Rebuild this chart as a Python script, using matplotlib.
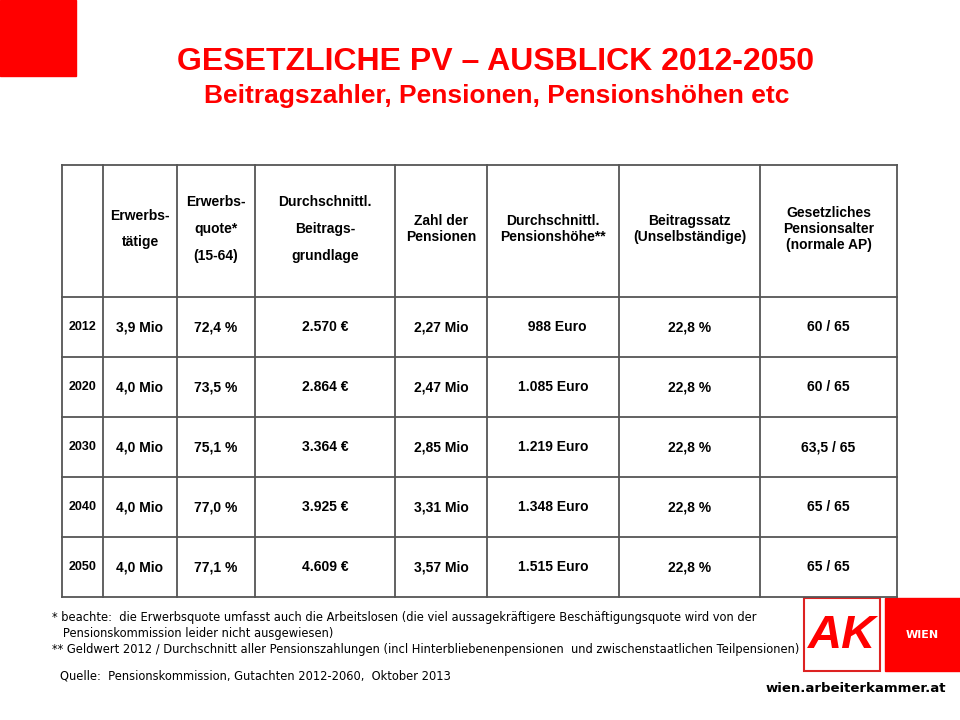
import matplotlib
matplotlib.use("Agg")
import matplotlib.pyplot as plt
from matplotlib.patches import Rectangle

years = ["2012", "2020", "2030", "2040", "2050"]
erwerbstaetige = ["3,9 Mio", "4,0 Mio", "4,0 Mio", "4,0 Mio", "4,0 Mio"]
erwerbsquote = ["72,4 %", "73,5 %", "75,1 %", "77,0 %", "77,1 %"]
beitragsgrundlage = ["2.570 €", "2.864 €", "3.364 €", "3.925 €", "4.609 €"]
zahl_pensionen = ["2,27 Mio", "2,47 Mio", "2,85 Mio", "3,31 Mio", "3,57 Mio"]
pensionshoehe = ["988 Euro", "1.085 Euro", "1.219 Euro", "1.348 Euro", "1.515 Euro"]
beitragssatz = ["22,8 %", "22,8 %", "22,8 %", "22,8 %", "22,8 %"]
pensionsalter = ["60 / 65", "60 / 65", "63,5 / 65", "65 / 65", "65 / 65"]
headers = ["", "Erwerbs-\n\ntätige", "Erwerbs-\n\nquote*\n\n(15-64)",
           "Durchschnittl.\n\nBeitrags-\n\ngrundlage", "Zahl der\nPensionen",
           "Durchschnittl.\nPensionshöhe**", "Beitragssatz\n(Unselbständige)",
           "Gesetzliches\nPensionsalter\n(normale AP)"]

RED = "#ff0000"
col_x = [62, 103, 177, 255, 395, 487, 619, 760, 897]
row_y = [165, 297, 357, 417, 477, 537, 597]

fig = plt.figure(figsize=(9.6, 7.2), dpi=100)
ax = fig.add_axes([0, 0, 1, 1])
ax.set_xlim(0, 960)
ax.set_ylim(720, 0)
ax.axis("off")

ax.add_patch(Rectangle((0, 0), 76, 76, color=RED))
ax.text(496, 62, "GESETZLICHE PV – AUSBLICK 2012-2050", color=RED, fontsize=23,
        fontweight="bold", ha="center", va="center", family="Liberation Sans")
ax.text(497, 96, "Beitragszahler, Pensionen, Pensionshöhen etc", color=RED, fontsize=19,
        fontweight="bold", ha="center", va="center", family="Liberation Sans")

# grid
for x in col_x:
    ax.plot([x, x], [row_y[0], row_y[-1]], color="#555555", lw=1.3)
for y in row_y:
    ax.plot([col_x[0], col_x[-1]], [y, y], color="#555555", lw=1.3)

def cx(i):
    return (col_x[i] + col_x[i + 1]) / 2

for i, h in enumerate(headers):
    ls = 0.95 if "\n\n" in h else 1.2
    ax.text(cx(i), (row_y[0] + row_y[1]) / 2 - 2, h, ha="center", va="center", fontsize=10,
            fontweight="bold", linespacing=ls, family="Liberation Sans")

cols = [years, erwerbstaetige, erwerbsquote, beitragsgrundlage, zahl_pensionen,
        pensionshoehe, beitragssatz, pensionsalter]
for r in range(len(years)):
    yc = (row_y[r + 1] + row_y[r + 2]) / 2
    for c, vals in enumerate(cols):
        s = vals[r]
        if c == 5 and s == "988 Euro":
            s = "  " + s
        ax.text(cx(c), yc, s, ha="center", va="center", fontsize=10 if c else 9,
                fontweight="bold", family="Liberation Sans")

notes = ["* beachte:  die Erwerbsquote umfasst auch die Arbeitslosen (die viel aussagekräftigere Beschäftigungsquote wird von der",
         "   Pensionskommission leider nicht ausgewiesen)",
         "** Geldwert 2012 / Durchschnitt aller Pensionszahlungen (incl Hinterbliebenenpensionen  und zwischenstaatlichen Teilpensionen)"]
for k, n in enumerate(notes):
    ax.text(52, 617 + k * 16, n, fontsize=8.3, va="center", family="Liberation Sans Narrow")
ax.text(60, 676, "Quelle:  Pensionskommission, Gutachten 2012-2060,  Oktober 2013", fontsize=8.3,
        va="center", family="Liberation Sans Narrow")

# logo
ax.add_patch(Rectangle((804, 598), 76, 73, facecolor="white", edgecolor="#dd2222", lw=1.5))
ax.text(842, 636, "AK", color=RED, fontsize=34, fontweight="bold", fontstyle="italic",
        ha="center", va="center", family="Liberation Sans")
ax.add_patch(Rectangle((885, 598), 75, 73, color=RED))
ax.text(922, 635, "WIEN", color="white", fontsize=8, fontweight="bold", ha="center",
        va="center", family="Liberation Sans Narrow")
ax.text(946, 688, "wien.arbeiterkammer.at", fontsize=9.5, fontweight="bold", ha="right",
        va="center", family="Liberation Sans Narrow")

fig.savefig("out.png", dpi=100)
